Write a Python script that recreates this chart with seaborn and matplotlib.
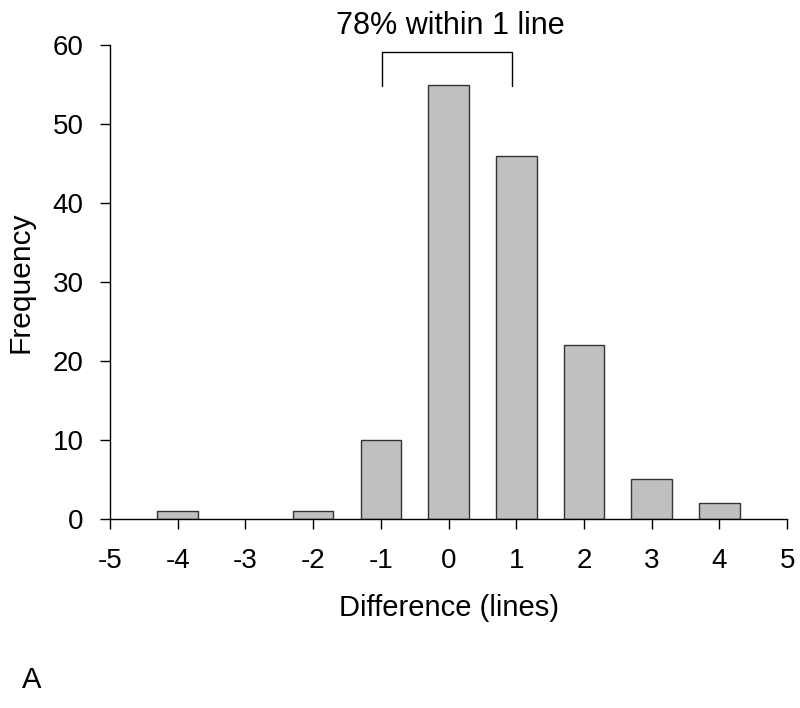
import matplotlib
matplotlib.use("Agg")
import matplotlib.pyplot as plt
import seaborn as sns
import pandas as pd

differences = [-4, -2, -1, 0, 1, 2, 3, 4]
frequencies = [1, 1, 10, 55, 46, 22, 5, 2]
x_ticks = [-5, -4, -3, -2, -1, 0, 1, 2, 3, 4, 5]
y_ticks = [0, 10, 20, 30, 40, 50, 60]
annotation = "78% within 1 line"

sns.set_theme(style="ticks")
plt.rcParams['font.family'] = ['Liberation Sans', 'DejaVu Sans']
plt.rcParams['text.color'] = 'black'
plt.rcParams['axes.labelcolor'] = 'black'
plt.rcParams['xtick.color'] = 'black'
plt.rcParams['ytick.color'] = 'black'

df = pd.DataFrame({"diff": differences, "freq": frequencies})

fig = plt.figure(figsize=(8, 7.08), dpi=100)
ax = fig.add_axes([0.1375, 0.267, 0.8465, 0.669])

sns.barplot(data=df, x="diff", y="freq", native_scale=True, width=0.6,
            color="#c0c0c0", edgecolor="#333333", linewidth=1.0,
            saturation=1, ax=ax)

ax.set_xlim(-5, 5)
ax.set_ylim(0, 60)
ax.set_xticks(x_ticks)
ax.set_xticklabels([str(v) for v in x_ticks])
ax.set_yticks(y_ticks)
ax.set_yticklabels([str(v) for v in y_ticks])
ax.tick_params(axis="both", labelsize=20, length=7, width=1, colors="black",
               direction="out")
ax.tick_params(axis="x", pad=14)
ax.tick_params(axis="y", pad=12)
for s in ["top", "right"]:
    ax.spines[s].set_visible(False)
for s in ["left", "bottom"]:
    ax.spines[s].set_color("black")
    ax.spines[s].set_linewidth(1)

ax.set_xlabel("Difference (lines)", fontsize=21, labelpad=14, color="black")
ax.set_ylabel("Frequency", fontsize=21.5, labelpad=13, color="black")

# bracket
bx = [-0.98, -0.98, 0.94, 0.94]
by = [54.9, 59.1, 59.1, 54.9]
ax.plot(bx, by, color="black", linewidth=1, clip_on=False)
ax.text(0.02, 62.4, annotation, fontsize=22, ha="center", va="center",
        clip_on=False, color="black")

fig.text(32/800, 1 - 680/708, "A", fontsize=21, ha="center", va="center",
         color="black")

fig.savefig("out.png", dpi=100, facecolor="white")
